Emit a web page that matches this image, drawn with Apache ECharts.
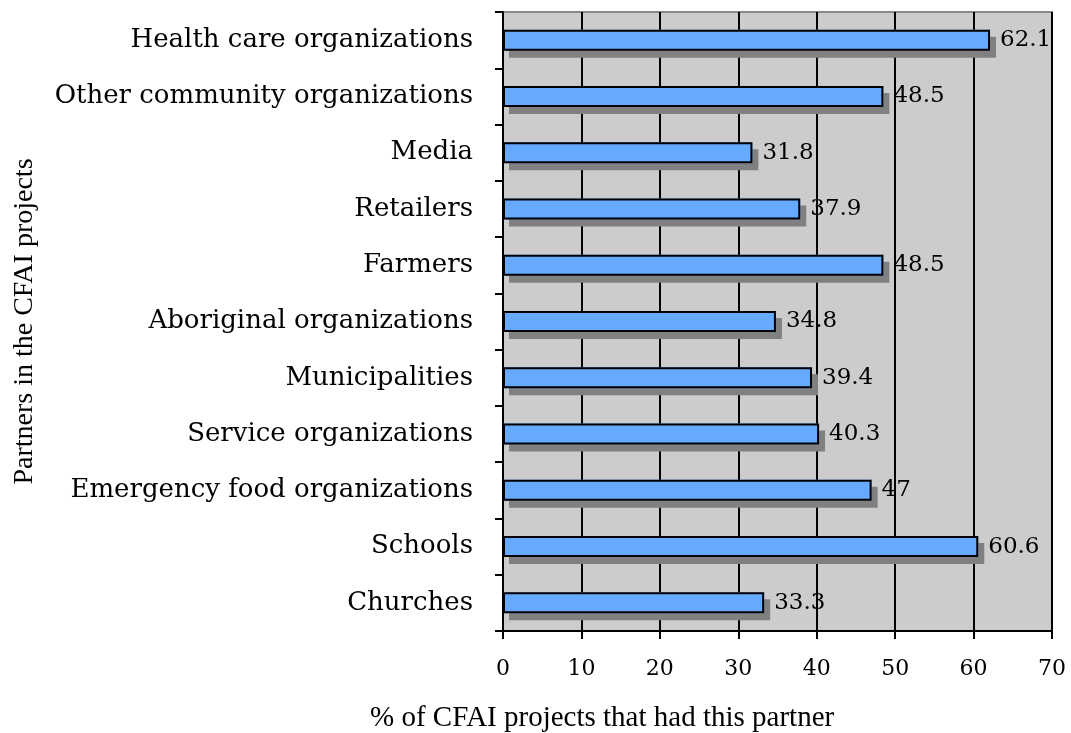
<!DOCTYPE html>
<html>
<head>
<meta charset="utf-8">
<script src="https://cdn.jsdelivr.net/npm/echarts@6/dist/echarts.min.js"></script>
<style>
  html, body { margin: 0; padding: 0; background: #ffffff; }
  #chart { width: 1071px; height: 733px; }
</style>
</head>
<body>
<div id="chart"></div>
<script>
// Partners, listed bottom to top as on the chart
const partners = [
  'Churches',
  'Schools',
  'Emergency food organizations',
  'Service organizations',
  'Municipalities',
  'Aboriginal organizations',
  'Farmers',
  'Retailers',
  'Media',
  'Other community organizations',
  'Health care organizations'
];
// Percentage of CFAI projects with each partner
const shares = [33.3, 60.6, 47, 40.3, 39.4, 34.8, 48.5, 37.9, 31.8, 48.5, 62.1];
const xTicks = [0, 10, 20, 30, 40, 50, 60, 70];

const labelFont = 'DejaVu Serif';
const titleFont = 'Liberation Serif';

const chart = echarts.init(document.getElementById('chart'));
chart.setOption({
  animation: false,
  grid: {
    left: 503, right: 19, top: 12, bottom: 102,
    outerBoundsMode: 'none',
    containLabel: false,
    show: true,
    backgroundColor: '#cccccc',
    borderColor: '#888888',
    borderWidth: 2
  },
  graphic: [{
    // horizontal axis title, centred under the whole figure
    type: 'text',
    left: 370,
    top: 704,
    style: {
      text: '% of CFAI projects that had this partner',
      font: '29px "Liberation Serif"',
      fill: '#000'
    }
  }],
  xAxis: {
    type: 'value',
    min: xTicks[0],
    max: xTicks[xTicks.length - 1],
    interval: 10,
    axisLine: { show: true, lineStyle: { color: '#000', width: 2 } },
    axisTick: { show: true, length: 8, lineStyle: { color: '#000', width: 2 } },
    axisLabel: { fontFamily: labelFont, fontSize: 22, color: '#000', margin: 27 },
    splitLine: { show: true, lineStyle: { color: '#000', width: 2 } }
  },
  yAxis: {
    type: 'category',
    data: partners,
    name: 'Partners in the CFAI projects',
    nameLocation: 'middle',
    nameGap: 464,
    nameRotate: 90,
    nameTextStyle: { fontFamily: titleFont, fontSize: 28, color: '#000' },
    axisLine: { show: true, lineStyle: { color: '#000', width: 2 } },
    axisTick: { show: true, length: 8, lineStyle: { color: '#000', width: 2 } },
    axisLabel: { fontFamily: labelFont, fontSize: 26, color: '#000', margin: 30 }
  },
  series: [{
    // filled bars carrying the drop shadow
    type: 'bar',
    data: shares,
    barWidth: 21,
    itemStyle: {
      color: '#66aaff',
      shadowColor: '#808080',
      shadowBlur: 0,
      shadowOffsetX: 6,
      shadowOffsetY: 7
    },
    z: 1
  }, {
    // black outlines and value labels on top of the bars
    type: 'bar',
    data: shares,
    barWidth: 21,
    barGap: '-100%',
    itemStyle: {
      color: 'rgba(0,0,0,0)',
      borderColor: '#000',
      borderWidth: 2
    },
    label: {
      show: true,
      position: 'right',
      distance: 10,
      fontFamily: labelFont,
      fontSize: 23,
      color: '#000'
    },
    z: 2
  }]
});
</script>
</body>
</html>
